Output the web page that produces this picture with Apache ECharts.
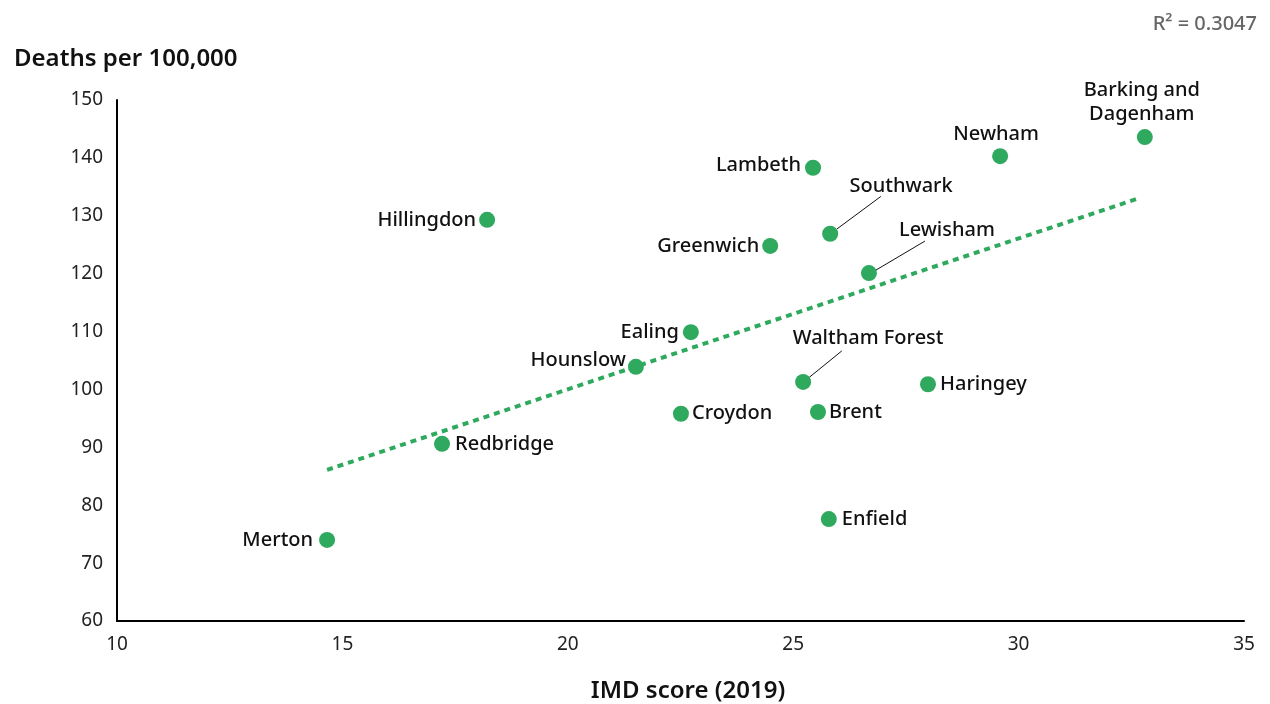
<!DOCTYPE html>
<html>
<head>
<meta charset="utf-8">
<script src="https://cdn.jsdelivr.net/npm/echarts@6/dist/echarts.min.js"></script>
<style>
html,body{margin:0;padding:0;background:#fff;}
#chart{width:1270px;height:704px;}
</style>
</head>
<body>
<div id="chart"></div>
<script>
const boroughs = ['Merton','Redbridge','Hillingdon','Hounslow','Ealing','Croydon','Greenwich','Lambeth','Southwark','Waltham Forest','Brent','Enfield','Lewisham','Haringey','Newham','Barking and\nDagenham'];
const imdScore = [14.66, 17.21, 18.21, 21.51, 22.73, 22.51, 24.49, 25.44, 25.82, 25.22, 25.55, 25.79, 26.68, 27.99, 29.59, 32.80];
const deathsPer100k = [74.0, 90.6, 129.3, 103.9, 109.9, 95.8, 124.8, 138.3, 126.9, 101.3, 96.1, 77.6, 120.1, 100.9, 140.3, 143.6];
const trendX = [14.66, 32.69];
const trendY = [86.1, 133.1];
const xTicks = [10, 15, 20, 25, 30, 35];
const yTicks = [60, 70, 80, 90, 100, 110, 120, 130, 140, 150];
const rSquared = 'R² = 0.3047';

const GREEN = '#2fa95d';
const FONT = 'Noto Sans';

// label placement (style only, pixel offsets)
const labelPlace = {
  'Merton': {position: 'left', distance: 6},
  'Redbridge': {position: 'right', distance: 5},
  'Hillingdon': {position: 'left', distance: 3},
  'Hounslow': {position: 'left', distance: 2, offset: [0, -7]},
  'Ealing': {position: 'left', distance: 4},
  'Croydon': {position: 'right', distance: 3},
  'Greenwich': {position: 'left', distance: 3},
  'Lambeth': {position: 'left', distance: 4, offset: [0, -2]},
  'Brent': {position: 'right', distance: 3},
  'Enfield': {position: 'right', distance: 5},
  'Haringey': {position: 'right', distance: 4},
  'Newham': {position: 'top', distance: 2, offset: [-4, 0]},
  'Barking and\nDagenham': {position: 'top', distance: 3, offset: [-3, 0], align: 'center'}
};
// labels set apart with a leader line: label offset, line start, line end (pixels from point)
const moved = {
  'Southwark': {label: [71, -47], from: [6.7, -4.7], to: [50.7, -37.3]},
  'Lewisham': {label: [78, -43], from: [7, -3], to: [56, -32]},
  'Waltham Forest': {label: [65, -44], from: [6.3, -4.7], to: [38.7, -31]}
};

const scatterData = boroughs.map((name, i) => {
  const d = {name: name, value: [imdScore[i], deathsPer100k[i]]};
  if (labelPlace[name]) {
    d.label = Object.assign({}, labelPlace[name]);
  } else if (moved[name]) {
    d.label = {position: 'inside', offset: moved[name].label, align: 'center'};
  }
  return d;
});

const chart = echarts.init(document.getElementById('chart'), null, {renderer: 'canvas'});
chart.setOption({
  animation: false,
  textStyle: {fontFamily: FONT},
  title: [{
    text: 'Deaths per 100,000',
    left: 9, top: 42,
    textStyle: {fontFamily: FONT, fontSize: 24, fontWeight: 600, color: '#111'}
  }, {
    text: 'IMD score (2019)',
    left: 683, top: 674, textAlign: 'center',
    textStyle: {fontFamily: FONT, fontSize: 24, fontWeight: 600, color: '#111'}
  }, {
    text: rSquared,
    right: 8, top: 9,
    textStyle: {fontFamily: FONT, fontSize: 20, fontWeight: 500, color: '#666'}
  }],
  grid: {left: 117, right: 26, top: 100, bottom: 83, containLabel: false},
  xAxis: {
    type: 'value', min: xTicks[0], max: xTicks[xTicks.length - 1], interval: 5,
    axisLine: {show: true, lineStyle: {color: '#000', width: 2}},
    axisTick: {show: false},
    splitLine: {show: false},
    axisLabel: {fontFamily: FONT, fontSize: 19, color: '#222', margin: 14}
  },
  yAxis: {
    type: 'value', min: yTicks[0], max: yTicks[yTicks.length - 1], interval: 10,
    axisLine: {show: true, lineStyle: {color: '#000', width: 2}},
    axisTick: {show: false},
    splitLine: {show: false},
    axisLabel: {fontFamily: FONT, fontSize: 19, color: '#222', margin: 14}
  },
  series: [{
    type: 'line',
    data: trendX.map((x, i) => [x, trendY[i]]),
    symbol: 'none',
    lineStyle: {color: GREEN, width: 4, type: [6, 5]},
    z: 1,
    silent: true
  }, {
    type: 'scatter',
    data: scatterData,
    symbolSize: 16,
    itemStyle: {color: GREEN, opacity: 1},
    z: 3,
    label: {
      show: true,
      formatter: '{b}',
      fontFamily: FONT, fontSize: 20, fontWeight: 500, color: '#111',
      lineHeight: 24
    }
  }]
});

// leader lines anchored to the plotted points
const leaders = [];
boroughs.forEach((name, i) => {
  const m = moved[name];
  if (!m) return;
  const p = chart.convertToPixel({seriesIndex: 1}, [imdScore[i], deathsPer100k[i]]);
  leaders.push({
    type: 'line',
    shape: {x1: p[0] + m.from[0], y1: p[1] + m.from[1], x2: p[0] + m.to[0], y2: p[1] + m.to[1]},
    style: {stroke: '#111', lineWidth: 1},
    z: 10, silent: true
  });
});
chart.setOption({graphic: leaders});
</script>
</body>
</html>
